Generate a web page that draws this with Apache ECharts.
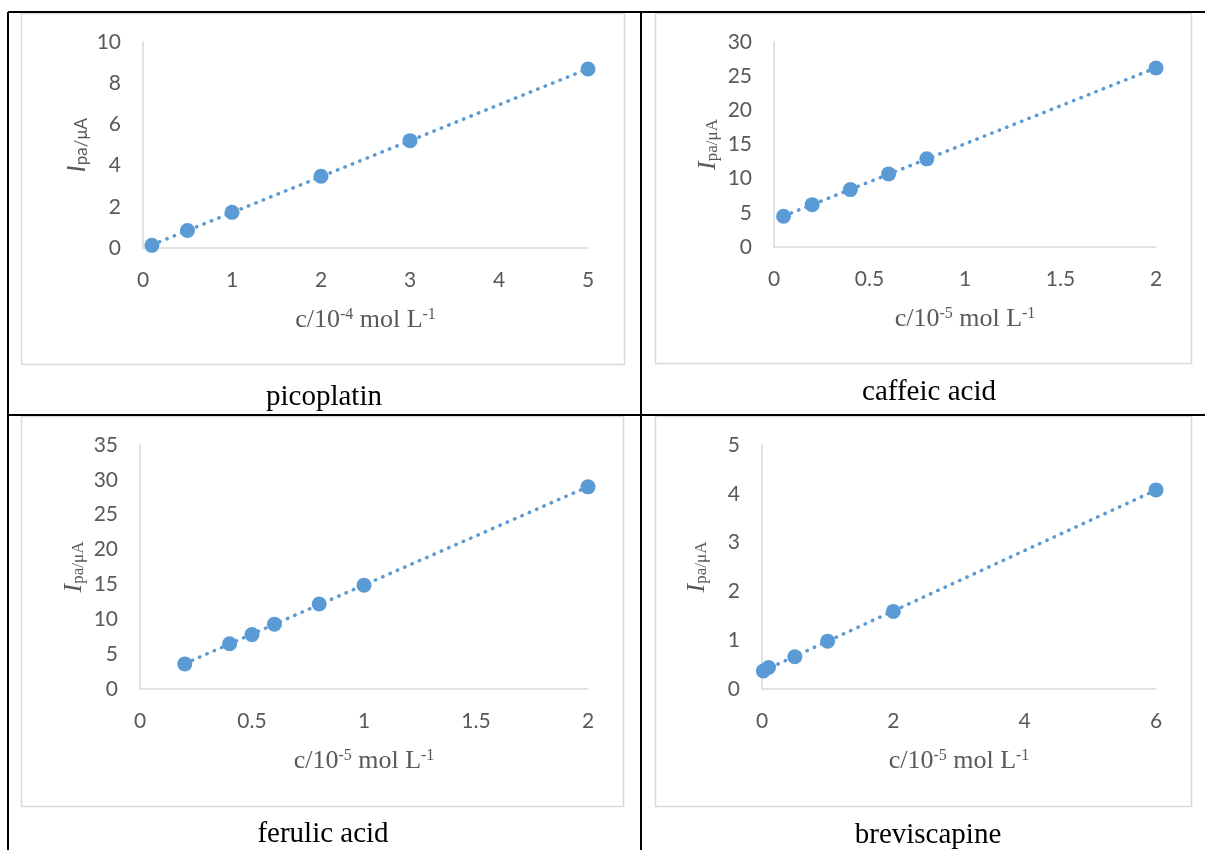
<!DOCTYPE html>
<html>
<head>
<meta charset="utf-8">
<script src="https://cdn.jsdelivr.net/npm/echarts@6/dist/echarts.min.js"></script>
<style>
  html, body { margin: 0; padding: 0; background: #fff; }
  #chart { width: 1205px; height: 850px; }
</style>
</head>
<body>
<div id="chart"></div>
<script>
// picoplatin (c / 10^-4 mol L^-1)
const picoX = [0.1, 0.5, 1, 2, 3, 5]
const picoY = [0.13, 0.85, 1.73, 3.48, 5.21, 8.69]
const picoXTicks = [0, 1, 2, 3, 4, 5]
const picoYTicks = [0, 2, 4, 6, 8, 10]

// caffeic acid (c / 10^-5 mol L^-1)
const caffX = [0.05, 0.2, 0.4, 0.6, 0.8, 2]
const caffY = [4.5, 6.2, 8.4, 10.7, 12.9, 26.2]
const caffXTicks = [0, 0.5, 1, 1.5, 2]
const caffYTicks = [0, 5, 10, 15, 20, 25, 30]

// ferulic acid
const ferX = [0.2, 0.4, 0.5, 0.6, 0.8, 1, 2]
const ferY = [3.6, 6.5, 7.8, 9.3, 12.2, 14.9, 29.0]
const ferXTicks = [0, 0.5, 1, 1.5, 2]
const ferYTicks = [0, 5, 10, 15, 20, 25, 30, 35]

// breviscapine
const brevX = [0.02, 0.1, 0.5, 1, 2, 6]
const brevY = [0.37, 0.44, 0.66, 0.98, 1.59, 4.08]
const brevXTicks = [0, 2, 4, 6]
const brevYTicks = [0, 1, 2, 3, 4, 5]

const titles = ['picoplatin', 'caffeic acid', 'ferulic acid', 'breviscapine']
const exponents = ['-4', '-5', '-5', '-5']

const BLUE = '#5B9BD5'
const GREY = '#595959'
const SERIF = '"Liberation Serif", "Times New Roman", serif'
const SANS = 'Lato, "Open Sans", sans-serif'

const panels = [
  { xs: picoX, ys: picoY, xt: picoXTicks, yt: picoYTicks, sansName: true,
    grid: { left: 143, top: 42, width: 445, height: 206 }, box: [21, 13, 603, 351], title: [324, 397] },
  { xs: caffX, ys: caffY, xt: caffXTicks, yt: caffYTicks,
    grid: { left: 774, top: 42, width: 382, height: 205 }, box: [655, 13, 536, 350], title: [929, 392] },
  { xs: ferX, ys: ferY, xt: ferXTicks, yt: ferYTicks,
    grid: { left: 140, top: 445, width: 448, height: 244 }, box: [21, 416, 602, 390], title: [323, 834] },
  { xs: brevX, ys: brevY, xt: brevXTicks, yt: brevYTicks,
    grid: { left: 762, top: 445, width: 394, height: 244 }, box: [655, 416, 536, 390], title: [928, 835] }
]

// linear trendline (least squares), drawn from first to last x like Excel
function trend(xs, ys) {
  const n = xs.length
  const mx = xs.reduce((a, b) => a + b, 0) / n
  const my = ys.reduce((a, b) => a + b, 0) / n
  let sxy = 0, sxx = 0
  xs.forEach((x, i) => { sxy += (x - mx) * (ys[i] - my); sxx += (x - mx) * (x - mx) })
  const k = sxy / sxx
  const b = my - k * mx
  const x0 = Math.min(...xs), x1 = Math.max(...xs)
  return [[x0, b + k * x0], [x1, b + k * x1]]
}

const chart = echarts.init(document.getElementById('chart'))

const grid = [], xAxis = [], yAxis = [], series = [], graphic = []

panels.forEach((p, i) => {
  grid.push(Object.assign({ containLabel: false }, p.grid))

  const nameFont = p.sansName ? SANS : SERIF
  xAxis.push({
    type: 'value', gridIndex: i,
    min: p.xt[0], max: p.xt[p.xt.length - 1], interval: p.xt[1] - p.xt[0],
    name: '{n|c/10}{s|' + exponents[i] + '}{n| mol L}{s|-1}',
    nameLocation: 'middle', nameGap: 59,
    nameTextStyle: {
      rich: {
        n: { fontFamily: SERIF, fontSize: 26, color: GREY, lineHeight: 26, verticalAlign: 'bottom', padding: [2, 0, 0, 0] },
        s: { fontFamily: SERIF, fontSize: 16, color: GREY, lineHeight: 16, verticalAlign: 'top' }
      }
    },
    axisLine: { show: true, onZero: false, lineStyle: { color: '#D9D9D9', width: 1.5 } },
    axisTick: { show: false },
    splitLine: { show: false },
    axisLabel: { fontFamily: SANS, fontSize: 21, color: GREY, margin: 22 }
  })
  yAxis.push({
    type: 'value', gridIndex: i,
    min: p.yt[0], max: p.yt[p.yt.length - 1], interval: p.yt[1] - p.yt[0],
    name: '{i|I}{s|pa/μA}',
    nameLocation: 'middle', nameRotate: 90, nameGap: 52,
    nameTextStyle: {
      rich: {
        i: { fontFamily: nameFont, fontStyle: 'italic', fontSize: 26, color: GREY, lineHeight: 26, verticalAlign: 'top', padding: [0, 0, 3, 0] },
        s: { fontFamily: nameFont, fontSize: 17, color: GREY, lineHeight: 17, verticalAlign: 'bottom' }
      }
    },
    axisLine: { show: true, lineStyle: { color: '#D9D9D9', width: 1.5 } },
    axisTick: { show: false },
    splitLine: { show: false },
    axisLabel: { fontFamily: SANS, fontSize: 21, color: GREY, margin: 22 }
  })

  series.push({
    type: 'line', xAxisIndex: i, yAxisIndex: i,
    data: trend(p.xs, p.ys),
    symbol: 'none', silent: true, z: 2,
    lineStyle: { color: BLUE, width: 3.5, type: [0.5, 7.5], cap: 'round' }
  })
  series.push({
    type: 'scatter', xAxisIndex: i, yAxisIndex: i,
    data: p.xs.map((x, j) => [x, p.ys[j]]),
    symbol: 'circle', symbolSize: 15, z: 3,
    itemStyle: { color: BLUE, opacity: 1 }
  })

  graphic.push({
    type: 'rect', silent: true, z: -1,
    shape: { x: p.box[0] + 0.5, y: p.box[1] + 0.5, width: p.box[2], height: p.box[3] },
    style: { fill: 'none', stroke: '#D9D9D9', lineWidth: 1.5 }
  })
  graphic.push({
    type: 'text', silent: true,
    x: p.title[0], y: p.title[1],
    style: { text: titles[i], fontFamily: SERIF, fontSize: 29, fill: '#000', align: 'center', verticalAlign: 'middle' }
  })
})

// table borders
const tableLines = [[8, 12, 1205, 12], [8, 415, 1205, 415], [8, 12, 8, 850], [641, 12, 641, 850]]
tableLines.forEach(l => {
  graphic.push({
    type: 'line', silent: true,
    shape: { x1: l[0], y1: l[1], x2: l[2], y2: l[3] },
    style: { stroke: '#000', lineWidth: 2 }
  })
})

chart.setOption({
  backgroundColor: '#fff',
  animation: false,
  grid, xAxis, yAxis, series, graphic
})

window.addEventListener('resize', () => chart.resize())
</script>
</body>
</html>
